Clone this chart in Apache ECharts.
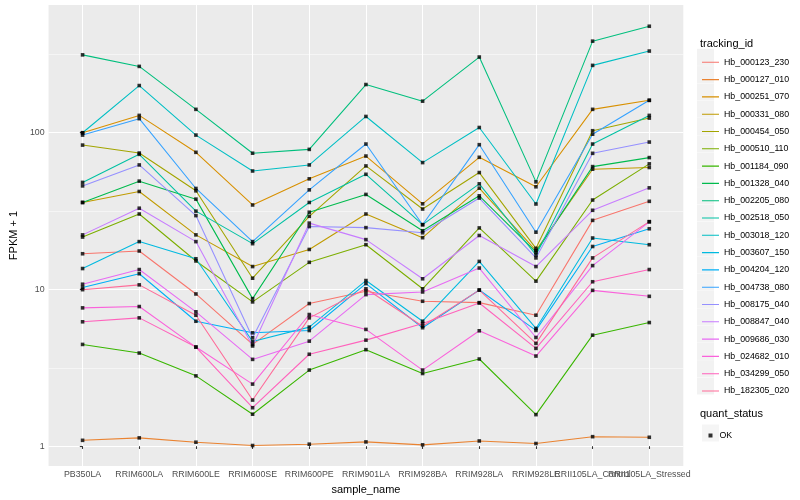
<!DOCTYPE html>
<html>
<head>
<meta charset="utf-8">
<script src="https://cdn.jsdelivr.net/npm/echarts@6/dist/echarts.min.js"></script>
<style>html,body{margin:0;padding:0;background:#fff}#c{width:800px;height:500px}</style>
</head>
<body>
<div id="c"></div>
<script>
const categories = ['PB350LA','RRIM600LA','RRIM600LE','RRIM600SE','RRIM600PE','RRIM901LA','RRIM928BA','RRIM928LA','RRIM928LE','RRII105LA_Control','RRII105LA_Stressed'];
const yTickValues = [1, 10, 100];
const yMinorValues = [3.162, 31.62, 316.2];

const trackingIds = ['Hb_000123_230','Hb_000127_010','Hb_000251_070','Hb_000331_080','Hb_000454_050','Hb_000510_110','Hb_001184_090','Hb_001328_040','Hb_002205_080','Hb_002518_050','Hb_003018_120','Hb_003607_150','Hb_004204_120','Hb_004738_080','Hb_008175_040','Hb_008847_040','Hb_009686_030','Hb_024682_010','Hb_034299_050','Hb_182305_020'];

const Hb_000123_230 = [16.9, 17.6, 9.36, 4.46, 8.13, 9.73, 8.41, 8.24, 6.85, 27.6, 36.5];
const Hb_000127_010 = [1.09, 1.13, 1.06, 1.01, 1.03, 1.065, 1.02, 1.08, 1.04, 1.15, 1.14];
const Hb_000251_070 = [100, 129, 75, 34.6, 50.8, 71, 35.2, 69.7, 45.2, 141, 161];
const Hb_000331_080 = [35.9, 42.2, 22.3, 14.0, 18.0, 30.3, 21.4, 44.3, 17.7, 58.5, 60];
const Hb_000454_050 = [83.4, 74.2, 42.6, 11.8, 29.3, 61.4, 32.6, 55.7, 18.3, 103, 124];
const Hb_000510_110 = [21.6, 30.3, 15.2, 8.33, 14.9, 19.3, 10.1, 24.7, 11.3, 37.2, 63.3];
const Hb_001184_090 = [4.46, 3.93, 2.81, 1.60, 3.06, 4.13, 2.91, 3.60, 1.59, 5.11, 6.15];
const Hb_001328_040 = [35.9, 49.1, 37.7, 8.74, 31.1, 40.4, 23.7, 39.6, 17.3, 60.8, 69.4];
const Hb_002205_080 = [314, 265, 141, 74, 78.3, 203, 159, 304, 48.6, 384, 478];
const Hb_002518_050 = [48.2, 72.8, 31.6, 19.6, 35.9, 54.3, 25.9, 47.2, 16.6, 84.7, 129];
const Hb_003018_120 = [100, 200, 96.6, 57, 62.3, 127, 64.5, 108, 35.1, 269, 332];
const Hb_003607_150 = [13.6, 20.2, 15.7, 4.66, 5.75, 11.4, 6.27, 15.1, 5.64, 21.3, 19.3];
const Hb_004204_120 = [10.3, 12.6, 6.27, 5.29, 5.47, 10.9, 5.70, 9.93, 5.48, 18.8, 24.4];
const Hb_004738_080 = [96.6, 123, 44.1, 20.2, 43.2, 84.7, 25.9, 83.9, 23.2, 97.9, 161];
const Hb_008175_040 = [45.8, 62.3, 29.6, 4.92, 25.2, 24.8, 23, 38.3, 15.9, 73.9, 87.2];
const Hb_008847_040 = [22.3, 33.0, 20.2, 4.36, 26.5, 20.8, 11.7, 22.1, 14.0, 32.0, 44.5];
const Hb_009686_030 = [10.8, 13.4, 7.2, 3.58, 4.68, 9.27, 9.64, 13.7, 4.94, 14.2, 27.0];
const Hb_024682_010 = [7.63, 7.78, 4.29, 2.49, 6.92, 5.56, 3.06, 5.45, 3.76, 9.87, 9.04];
const Hb_034299_050 = [6.22, 6.59, 4.29, 1.76, 3.86, 4.75, 6.07, 8.2, 4.21, 11.2, 13.4];
const Hb_182305_020 = [9.97, 10.7, 6.85, 1.97, 6.59, 10.1, 5.83, 9.9, 4.53, 15.9, 27.1];

const seriesValues = [Hb_000123_230, Hb_000127_010, Hb_000251_070, Hb_000331_080, Hb_000454_050, Hb_000510_110, Hb_001184_090, Hb_001328_040, Hb_002205_080, Hb_002518_050, Hb_003018_120, Hb_003607_150, Hb_004204_120, Hb_004738_080, Hb_008175_040, Hb_008847_040, Hb_009686_030, Hb_024682_010, Hb_034299_050, Hb_182305_020];

const colors = ['#F8766D','#EA8331','#D89000','#C09B00','#A3A500','#7CAE00','#39B600','#00BB4E','#00BF7D','#00C1A3','#00BFC4','#00BAE0','#00B0F6','#35A2FF','#9590FF','#C77CFF','#E76BF3','#FA62DB','#FF62BC','#FF6A98'];

const FONT = 'Liberation Sans, Arial, sans-serif';
const lg = v => Math.log10(v);
const keyLineIcon = 'path://M0,0h17v0.01h-17z M0,7.96h17v1.08h-17z M0,16.99h17v0.01h-17z';
const catIdx = categories.map((c, i) => i);
const KEY_BG = '#F2F2F2';
const LEGEND_LEFT = 697, LEGEND_TOP = 48.8, KEY_SIZE = 17, KEY_GAP = 0.3;

const lineSeries = trackingIds.map((id, k) => ({
  name: id,
  type: 'line',
  symbol: 'none',
  data: seriesValues[k].map((v, i) => [i, lg(v)]),
  lineStyle: { color: colors[k], width: 1.07 },
  itemStyle: { color: colors[k] },
  z: 2,
  silent: true
}));

const pointData = [];
seriesValues.forEach(arr => arr.forEach((v, i) => pointData.push([i, lg(v)])));

// grey legend-key backgrounds (decoration behind the legend rows)
const keyBackgrounds = trackingIds.map((id, k) => ({
  type: 'rect', z: 1, silent: true,
  shape: { x: LEGEND_LEFT, y: LEGEND_TOP + k * (KEY_SIZE + KEY_GAP), width: KEY_SIZE, height: KEY_SIZE },
  style: { fill: KEY_BG }
}));

const labelStyle = { fontSize: 8.8, color: '#4D4D4D', margin: 4, fontFamily: FONT, hideOverlap: false, showMinLabel: true, showMaxLabel: true, formatter: v => categories[Math.round(v)] };

function labelAxis(values) {
  return {
    type: 'value', min: -0.6, max: 10.6, position: 'bottom', offset: 0,
    axisLine: { show: false },
    axisTick: { show: false, customValues: values },
    axisLabel: Object.assign({ customValues: values }, labelStyle),
    splitLine: { show: false }
  };
}

const chart = echarts.init(document.getElementById('c'), null, { renderer: 'canvas' });
chart.setOption({
  animation: false,
  backgroundColor: '#ffffff',
  textStyle: { fontFamily: FONT },
  title: [
    { text: 'tracking_id', left: 695, top: 33, textStyle: { fontSize: 11, fontWeight: 'normal', color: '#000', fontFamily: FONT } },
    { text: 'quant_status', left: 695, top: 403, textStyle: { fontSize: 11, fontWeight: 'normal', color: '#000', fontFamily: FONT } }
  ],
  graphic: [{ type: 'group', z: 1, children: keyBackgrounds }],
  grid: { left: 40, right: 116.7, top: 5, bottom: 31.7, show: true, backgroundColor: '#EBEBEB', borderWidth: 0, containLabel: false },
  xAxis: [
    {
      type: 'value', min: -0.6, max: 10.6, position: 'bottom',
      name: 'sample_name', nameLocation: 'middle', nameGap: 15,
      nameTextStyle: { fontSize: 11, color: '#000', fontFamily: FONT },
      axisLine: { show: false },
      axisTick: { show: true, length: 2.75, lineStyle: { color: '#333333', width: 1.07 }, customValues: catIdx },
      axisLabel: Object.assign({ customValues: catIdx.slice(0, 9) }, labelStyle),
      splitLine: { show: true, lineStyle: { color: '#FFFFFF', width: 1.07 } }
    },
    labelAxis([9]),
    labelAxis([10])
  ],
  yAxis: [
    {
      type: 'value', min: -0.127, max: 2.815,
      name: 'FPKM + 1', nameLocation: 'middle', nameGap: 23,
      nameTextStyle: { fontSize: 11, color: '#000', fontFamily: FONT },
      axisLine: { show: false },
      axisTick: { show: true, length: 2.75, lineStyle: { color: '#333333', width: 1.07 }, customValues: yTickValues.map(lg) },
      axisLabel: { customValues: yTickValues.map(lg), formatter: v => String(Math.round(Math.pow(10, v))), fontSize: 8.8, color: '#4D4D4D', margin: 4, fontFamily: FONT, showMinLabel: true, showMaxLabel: true },
      splitLine: { show: true, lineStyle: { color: '#FFFFFF', width: 1.07 } }
    },
    {
      type: 'value', min: -0.127, max: 2.815, position: 'left',
      axisLine: { show: false },
      axisTick: { show: false, customValues: yMinorValues.map(lg) },
      axisLabel: { show: false, customValues: yMinorValues.map(lg) },
      splitLine: { show: true, lineStyle: { color: '#FFFFFF', width: 0.53 } }
    }
  ],
  legend: [
    {
      data: trackingIds, orient: 'vertical', left: LEGEND_LEFT, top: LEGEND_TOP, z: 3,
      itemWidth: KEY_SIZE, itemHeight: KEY_SIZE, itemGap: KEY_GAP, icon: keyLineIcon,
      textStyle: { fontSize: 8.8, color: '#000', fontFamily: FONT },
      selectedMode: false
    },
    {
      data: [{ name: 'OK', icon: 'rect', itemStyle: { color: KEY_BG, borderWidth: 0 } }],
      orient: 'vertical', left: LEGEND_LEFT, top: 419.5, z: 1,
      itemWidth: KEY_SIZE, itemHeight: KEY_SIZE,
      textStyle: { fontSize: 8.8, color: 'rgba(0,0,0,0)', fontFamily: FONT },
      selectedMode: false
    },
    {
      data: ['OK'], orient: 'vertical', left: 703.5, top: 426, z: 3,
      itemWidth: 4, itemHeight: 4, icon: 'rect',
      textStyle: { fontSize: 8.8, color: '#000', fontFamily: FONT, padding: [0, 0, 0, 2] },
      selectedMode: false
    }
  ],
  series: lineSeries.concat([{
    name: 'OK', type: 'scatter', symbol: 'rect', symbolSize: 3.6,
    data: pointData, itemStyle: { color: '#000000' }, z: 3, silent: true
  }])
});
</script>
</body>
</html>
